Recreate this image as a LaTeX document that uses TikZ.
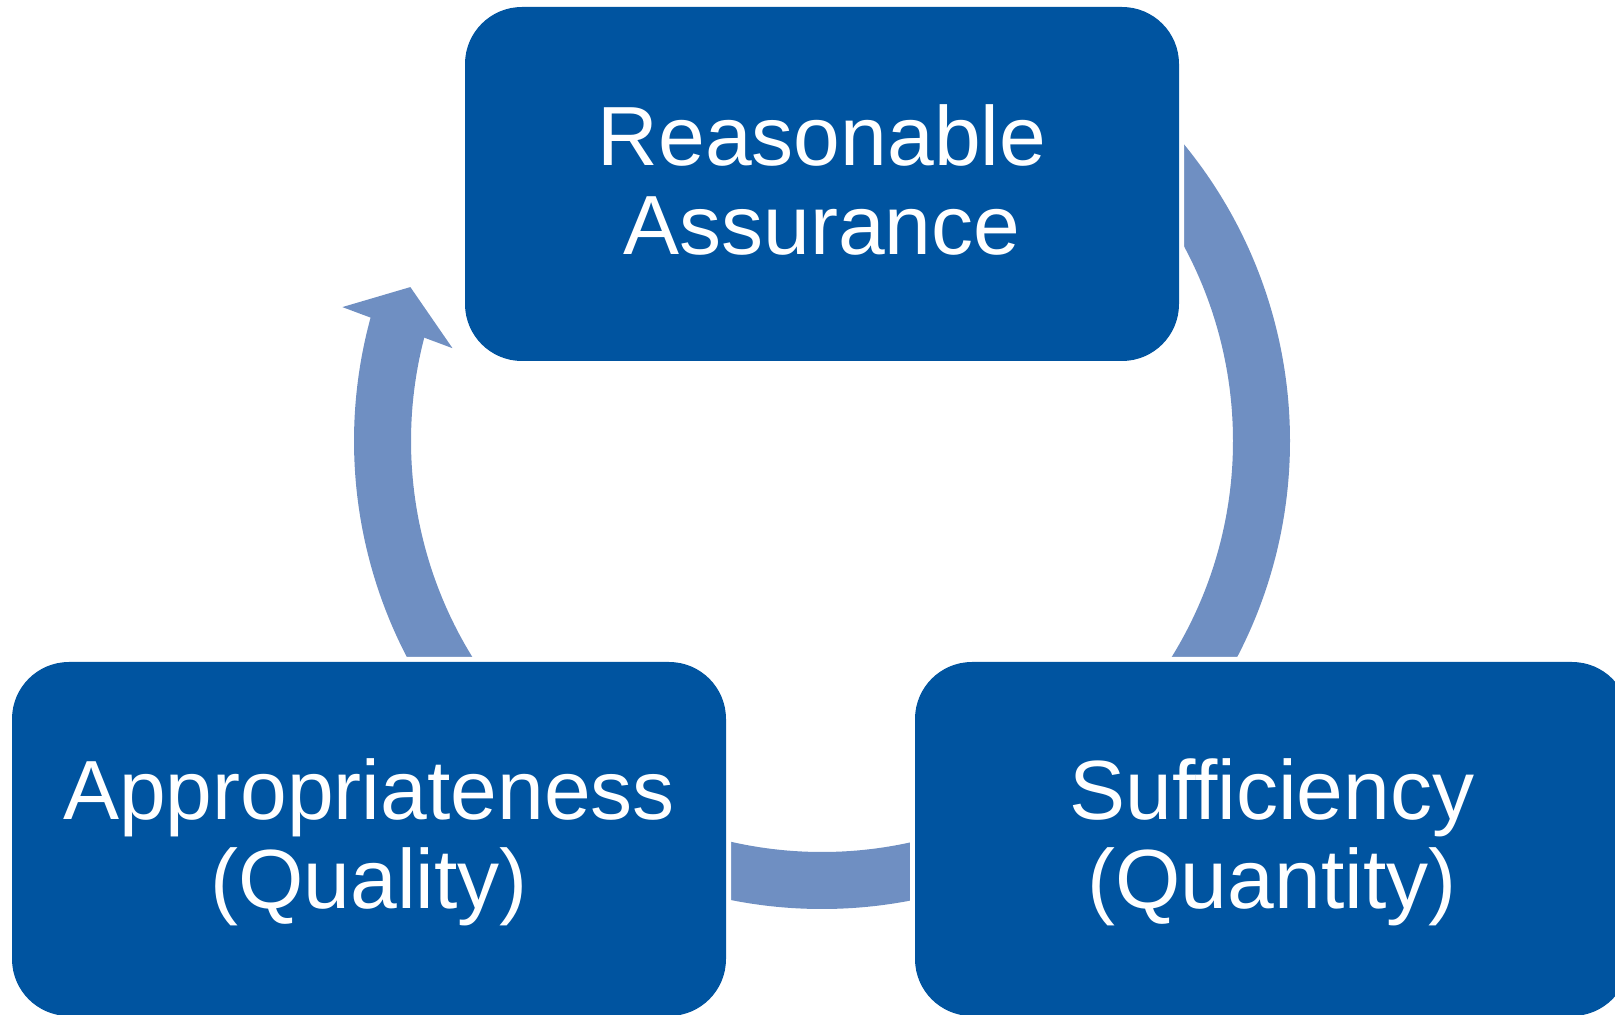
\documentclass[tikz,border=0pt]{standalone}
\usepackage{fontspec}
\setmainfont{Liberation Sans}[Ligatures=CommonOff]
\usetikzlibrary{calc}
\definecolor{boxblue}{RGB}{0,84,160}
\definecolor{arcblue}{RGB}{111,143,194}
\begin{document}
\begin{tikzpicture}[x=1pt,y=1pt,
     stage/.style={rectangle,rounded corners=57pt,fill=boxblue,
        preaction={draw=white,line width=10pt},
        minimum width=714pt,minimum height=354pt,inner sep=0pt,
        text=white,align=center,font=\fontsize{84}{89}\selectfont},
     band/.style={draw=arcblue,line width=57pt}
     ]
%Frame of the picture
\useasboundingbox (0,0) rectangle (1615,1015);

%Centre and radii of the cycle
\def \cx{822}
\def \cy{574}
\def \rmid{439.5}
\def \rout{498}
\def \rin{381}
\coordinate (c) at (\cx,\cy);

%Arcs of the cycle (ends hidden under the boxes)
\draw[band] (c) ++(215:\rmid) arc[start angle=215,end angle=164.5,radius=\rmid];
\draw[band] (c) ++(45:\rmid) arc[start angle=45,end angle=-35,radius=\rmid];
\draw[band] (c) ++(-70:\rmid) arc[start angle=-70,end angle=-110,radius=\rmid];

%Arrow head on the left arc
\fill[arcblue] ($(c)+(164.4:\rout)$) -- ($(c)+(159.5:\rmid)$) -- ($(c)+(165.9:\rin)$) -- cycle;

%The three boxes
\node[stage,text depth=9pt] (assur) at (822,831) {Reasonable\\Assurance};
\node[stage,text depth=11pt] (qual) at (369,176) {Appropriateness\\(Quality)};
\node[stage,text depth=11pt] (quant) at (1272,176) {Sufficiency\\(Quantity)};
\end{tikzpicture}
\end{document}
